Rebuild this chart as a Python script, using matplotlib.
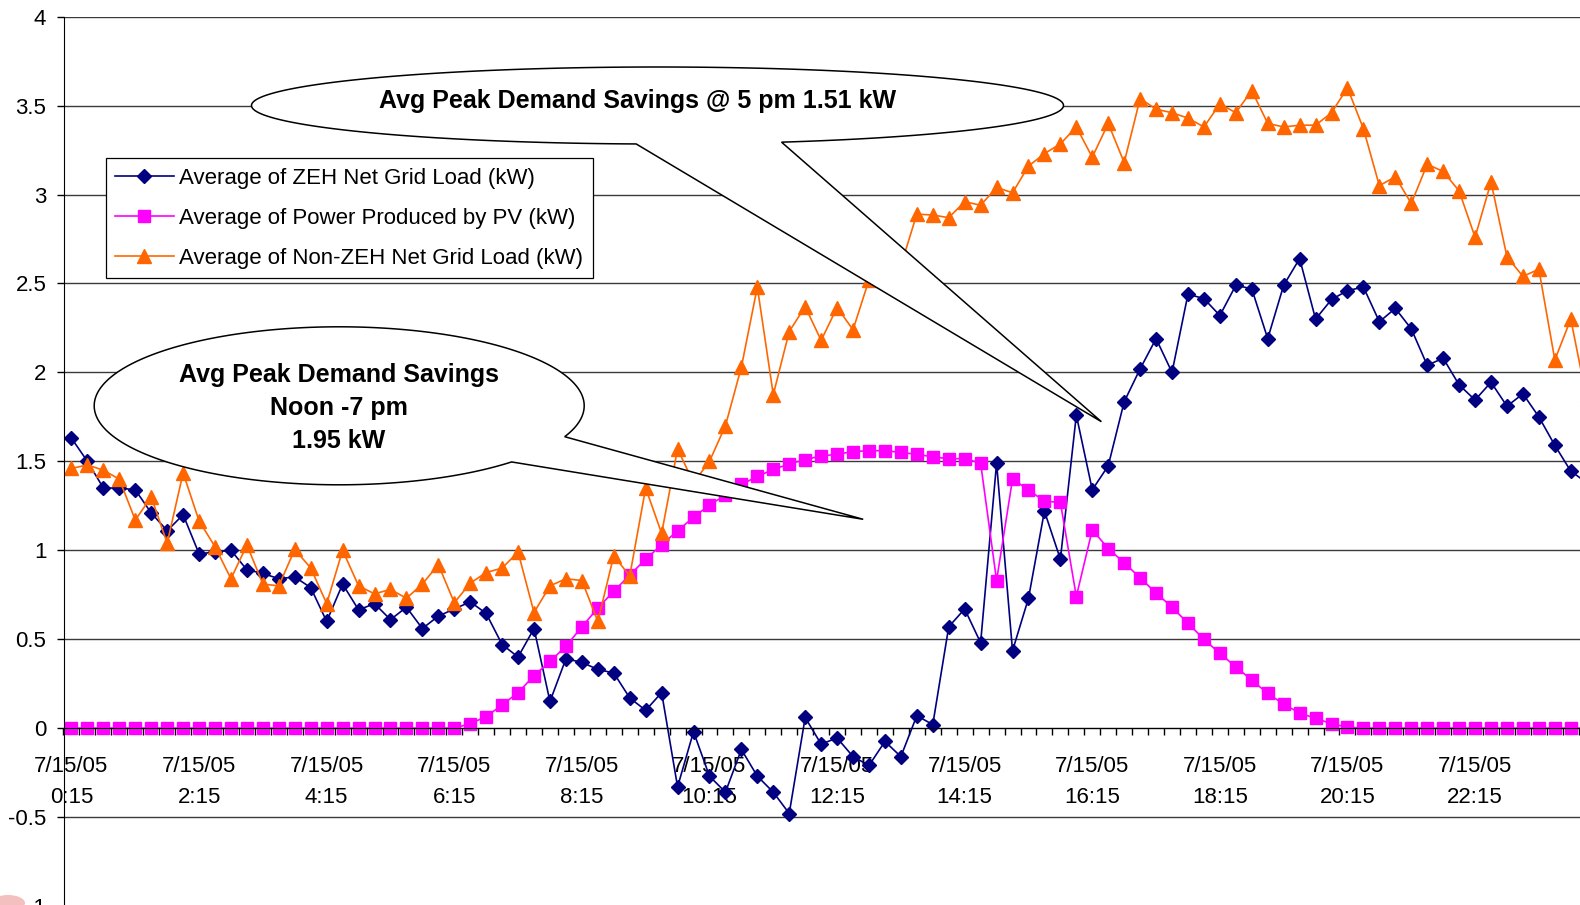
import numpy as np
import matplotlib
matplotlib.use("Agg")
import matplotlib.pyplot as plt
from matplotlib.patches import Polygon, Ellipse

plt.rcParams['font.family'] = ['Liberation Sans', 'DejaVu Sans']

# 15 minute averages on 7/15/05, 0:15 .. 24:00 (96 values, kW)
zeh_net = [1.63, 1.50, 1.35, 1.35, 1.34, 1.21, 1.11, 1.20, 0.98, 0.99,
           1.00, 0.89, 0.87, 0.84, 0.85, 0.79, 0.60, 0.81, 0.665, 0.70,
           0.61, 0.68, 0.56, 0.63, 0.67, 0.71, 0.645, 0.47, 0.40, 0.56,
           0.15, 0.39, 0.37, 0.33, 0.31, 0.17, 0.10, 0.20, -0.33, -0.02,
           -0.27, -0.36, -0.12, -0.27, -0.36, -0.48, 0.06, -0.09, -0.055, -0.16,
           -0.21, -0.075, -0.16, 0.07, 0.02, 0.57, 0.67, 0.48, 1.49, 0.435,
           0.73, 1.22, 0.95, 1.76, 1.34, 1.475, 1.835, 2.02, 2.19, 2.00,
           2.44, 2.415, 2.32, 2.49, 2.47, 2.19, 2.49, 2.64, 2.30, 2.41,
           2.46, 2.48, 2.285, 2.36, 2.245, 2.04, 2.08, 1.93, 1.845, 1.945,
           1.81, 1.88, 1.75, 1.59, 1.445, 1.38]

pv_power = [0, 0, 0, 0, 0, 0, 0, 0, 0, 0,
            0, 0, 0, 0, 0, 0, 0, 0, 0, 0,
            0, 0, 0, 0, 0, 0.025, 0.065, 0.13, 0.20, 0.295,
            0.375, 0.46, 0.57, 0.675, 0.77, 0.86, 0.95, 1.03, 1.11, 1.185,
            1.255, 1.31, 1.37, 1.415, 1.455, 1.485, 1.51, 1.53, 1.54, 1.555,
            1.56, 1.56, 1.55, 1.54, 1.525, 1.515, 1.515, 1.49, 0.83, 1.40,
            1.34, 1.275, 1.27, 0.74, 1.115, 1.01, 0.93, 0.845, 0.76, 0.68,
            0.59, 0.50, 0.42, 0.345, 0.27, 0.195, 0.135, 0.085, 0.055, 0.025,
            0.005, 0, 0, 0, 0, 0, 0, 0, 0, 0,
            0, 0, 0, 0, 0, 0]

non_zeh_net = [1.46, 1.48, 1.45, 1.40, 1.17, 1.30, 1.04, 1.435, 1.165, 1.02,
               0.84, 1.03, 0.81, 0.80, 1.005, 0.90, 0.70, 1.00, 0.80, 0.755,
               0.78, 0.73, 0.81, 0.92, 0.705, 0.815, 0.875, 0.90, 0.99, 0.65,
               0.80, 0.84, 0.83, 0.60, 0.97, 0.855, 1.35, 1.095, 1.57, 1.38,
               1.50, 1.70, 2.03, 2.48, 1.875, 2.23, 2.37, 2.18, 2.365, 2.24,
               2.52, 2.62, 2.60, 2.89, 2.885, 2.87, 2.96, 2.94, 3.04, 3.01,
               3.16, 3.23, 3.285, 3.38, 3.21, 3.40, 3.18, 3.54, 3.48, 3.46,
               3.43, 3.38, 3.51, 3.46, 3.585, 3.40, 3.38, 3.39, 3.39, 3.46,
               3.60, 3.37, 3.05, 3.10, 2.95, 3.17, 3.13, 3.02, 2.76, 3.07,
               2.65, 2.54, 2.58, 2.07, 2.30, 1.85]

series_names = ['Average of ZEH Net Grid Load (kW)',
                'Average of Power Produced by PV (kW)',
                'Average of Non-ZEH Net Grid Load (kW)']

tick_date = '7/15/05'
tick_times = ['0:15', '2:15', '4:15', '6:15', '8:15', '10:15',
              '12:15', '14:15', '16:15', '18:15', '20:15', '22:15']
y_ticks = [-1, -0.5, 0, 0.5, 1, 1.5, 2, 2.5, 3, 3.5, 4]
y_tick_labels = ['-1', '-0.5', '0', '0.5', '1', '1.5', '2', '2.5', '3', '3.5', '4']

W, H = 1580, 905
fig = plt.figure(figsize=(W / 100, H / 100), dpi=100)
# the chart is cropped: the axes run past the right and bottom edges
ax = fig.add_axes([63.5 / W, 1 - 906 / H, (1594.7 - 63.5) / W, (906 - 16.7) / H])

x = np.arange(len(zeh_net))
ax.plot(x, zeh_net, color='#000080', lw=1.2, marker='D', ms=7, label=series_names[0])
ax.plot(x, pv_power, color='#FF00FF', lw=1.2, marker='s', ms=8.5, label=series_names[1])
ax.plot(x, non_zeh_net, color='#FF6600', lw=1.2, marker='^', ms=10.5, label=series_names[2])

# spine position first, it resets the tick settings
ax.spines['bottom'].set_position(('data', 0))
ax.spines['top'].set_visible(False)
ax.spines['right'].set_visible(False)

ax.set_xlim(-0.5, len(x) - 0.5)
ax.set_ylim(-1, 4)
ax.set_yticks(y_ticks)
ax.set_yticklabels(y_tick_labels, fontsize=16)
ax.set_xticks(x[::8])
ax.set_xticklabels([tick_date + '\n' + t for t in tick_times], fontsize=16, linespacing=1.66)
ax.set_xticks(np.arange(-0.5, len(x), 1), minor=True)
ax.tick_params(axis='x', which='major', length=0, pad=20)
ax.tick_params(axis='x', which='minor', length=4.8, width=1, direction='out')
ax.tick_params(axis='y', length=4.8, width=1, pad=7.6)

ax.set_axisbelow(True)
ax.yaxis.grid(True, color='#3a3a3a', lw=1.0)

leg = ax.legend(loc='upper left', bbox_to_anchor=(105.6 / W, 1 - 158.3 / H),
                bbox_transform=fig.transFigure, fontsize=16, frameon=True,
                fancybox=False, edgecolor='black', framealpha=1, borderpad=0.43,
                labelspacing=0.85, handlelength=2.63, handletextpad=0.26,
                borderaxespad=0)
leg.get_frame().set_linewidth(0.9)


def callout(cx, cy, rx, ry, b1, b2, tip):
    # ellipse with a wedge pointing at tip, all in pixel coords (y down)
    a1 = np.arctan2((b1[1] - cy) / ry, (b1[0] - cx) / rx)
    a2 = np.arctan2((b2[1] - cy) / ry, (b2[0] - cx) / rx)
    lo, hi = sorted([a1, a2])
    if hi - lo < np.pi:
        t = np.linspace(hi, lo + 2 * np.pi, 300)
    else:
        t = np.linspace(lo, hi, 300)
    px = np.append(cx + rx * np.cos(t), tip[0])
    py = np.append(cy + ry * np.sin(t), tip[1])
    pts = np.column_stack([px / W, 1 - py / H])
    fig.add_artist(Polygon(pts, closed=True, facecolor='white', edgecolor='black',
                           lw=1.1, transform=fig.transFigure, zorder=6))


callout(657.5, 105.5, 406, 38.5, (635.6, 145), (788.8, 144.3), (1101.4, 421.7))
fig.text(637.9 / W, 1 - 100.5 / H, 'Avg Peak Demand Savings @ 5 pm 1.51 kW',
         ha='center', va='center', fontsize=18, fontweight='bold', zorder=7)

callout(339.2, 405.8, 245, 79, (564.7, 436.7), (512.7, 462.3), (863.2, 519.3))
for line, yy in zip(['Avg Peak Demand Savings', 'Noon -7 pm', '1.95 kW'], [374.5, 407.8, 441]):
    fig.text(338.7 / W, 1 - yy / H, line, ha='center', va='center',
             fontsize=18, fontweight='bold', zorder=7)

# faint red smudge in the bottom left corner of the source image
fig.add_artist(Ellipse((8 / W, 1 - 903 / H), 34 / W, 16 / H, facecolor='#e88080',
                       edgecolor='none', alpha=0.5, transform=fig.transFigure, zorder=1))

fig.savefig('out.png', dpi=100)
